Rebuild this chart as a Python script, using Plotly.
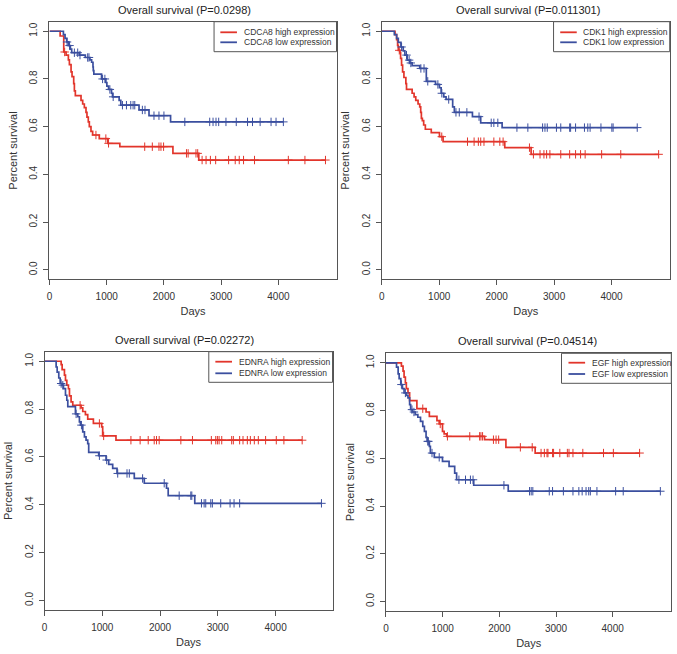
import numpy as np
import plotly.graph_objects as go

W, H = 677, 654

# ---------------- data ----------------
panel_titles = ["Overall survival (P=0.0298)", "Overall survival (P=0.011301)",
                "Overall survival (P=0.02272)", "Overall survival (P=0.04514)"]
genes = ["CDCA8", "CDK1", "EDNRA", "EGF"]

# CDCA8
cdca8_high_days = [186, 249, 290, 330, 348, 377, 394, 423, 435, 452, 551, 580, 609, 638, 655, 678, 696,
                   725, 754, 870, 1020, 1229, 2157, 2609]
cdca8_high_surv = [0.98, 0.913, 0.90, 0.88, 0.86, 0.83, 0.81, 0.78, 0.75, 0.73, 0.71, 0.695, 0.68, 0.66,
                   0.64, 0.62, 0.60, 0.58, 0.565, 0.55, 0.53, 0.516, 0.488, 0.46]
cdca8_high_censor = [265, 812, 985, 1032, 1664, 1797, 1913, 1948, 1994, 2394, 2423, 2560, 2590, 2667, 2736,
                     2812, 2904, 3130, 3246, 3316, 3391, 3583, 4174, 4464, 4823]
cdca8_low_days = [243, 272, 301, 330, 365, 388, 522, 626, 707, 736, 760, 765, 775, 910, 985, 1003, 1032,
                  1084, 1101, 1217, 1246, 1565, 1739, 2116]
cdca8_low_surv = [0.986, 0.97, 0.955, 0.94, 0.925, 0.91, 0.90, 0.89, 0.88, 0.87, 0.85, 0.835, 0.82, 0.80,
                  0.785, 0.77, 0.756, 0.74, 0.725, 0.71, 0.69, 0.67, 0.646, 0.62]
cdca8_low_censor = [307, 350, 435, 493, 533, 667, 690, 928, 968, 1055, 1113, 1275, 1345, 1420, 1461, 1490,
                    1623, 1669, 1826, 1913, 2000, 2365, 2800, 2858, 2910, 2957, 3084, 3264, 3461, 3548,
                    3681, 3872, 3959, 4087]

# CDK1
cdk1_high_days = [230, 258, 275, 287, 316, 327, 344, 362, 385, 419, 430, 528, 562, 591, 631, 660, 677,
                  689, 706, 729, 758, 861, 1004, 1067, 2141, 2600]
cdk1_high_surv = [0.986, 0.965, 0.941, 0.92, 0.91, 0.886, 0.858, 0.83, 0.806, 0.78, 0.756, 0.74, 0.725,
                  0.71, 0.695, 0.683, 0.66, 0.635, 0.625, 0.607, 0.589, 0.575, 0.558, 0.537, 0.512, 0.484]
cdk1_high_censor = [304, 1044, 1492, 1607, 1681, 1722, 1779, 1951, 2055, 2112, 2571, 2640, 2755, 2823,
                    2870, 2927, 3116, 3271, 3374, 3461, 3541, 3828, 4161, 4821]
cdk1_low_days = [218, 258, 287, 333, 373, 402, 442, 488, 528, 660, 775, 935, 1004, 1033, 1079, 1119,
                 1234, 1263, 1578, 1722, 2095]
cdk1_low_surv = [0.986, 0.97, 0.953, 0.934, 0.918, 0.9, 0.879, 0.867, 0.856, 0.844, 0.79, 0.777, 0.763,
                 0.74, 0.725, 0.714, 0.683, 0.66, 0.642, 0.616, 0.596]
cdk1_low_censor = [344, 430, 476, 505, 680, 735, 800, 976, 1045, 1165, 1291, 1349, 1481, 1693, 1905, 1951,
                   2020, 2353, 2543, 2800, 2841, 2881, 3041, 3116, 3271, 3288, 3374, 3529, 3587, 3627,
                   3816, 4006, 4028, 4448]

# EDNRA
ednra_high_days = [288, 305, 345, 363, 386, 414, 432, 460, 489, 633, 662, 708, 748, 846, 990, 1007, 1237]
ednra_high_surv = [0.986, 0.965, 0.942, 0.92, 0.90, 0.885, 0.855, 0.83, 0.816, 0.805, 0.79, 0.777, 0.758,
                   0.74, 0.726, 0.688, 0.67]
ednra_high_censor = [616, 950, 1024, 1496, 1655, 1795, 1899, 1939, 1985, 2360, 2561, 2888, 2964, 2993,
                     3022, 3068, 3240, 3269, 3378, 3436, 3511, 3563, 3632, 3701, 3827, 4012, 4144, 4460]
ednra_low_days = [201, 219, 247, 271, 305, 328, 363, 386, 403, 535, 576, 604, 622, 662, 691, 719, 748,
                  765, 938, 1065, 1111, 1180, 1255, 1554, 1727, 2112, 2141, 2601]
ednra_low_surv = [0.976, 0.955, 0.93, 0.907, 0.9, 0.886, 0.858, 0.837, 0.81, 0.78, 0.768, 0.747, 0.733,
                  0.705, 0.684, 0.67, 0.656, 0.619, 0.605, 0.587, 0.569, 0.552, 0.531, 0.51, 0.49, 0.469,
                  0.438, 0.406]
ednra_low_censor = [288, 317, 547, 639, 950, 1076, 1267, 1428, 1468, 1698, 2072, 2331, 2532, 2550, 2717,
                    2763, 2791, 2878, 2906, 3050, 3212, 3281, 3378, 4794]

# EGF
egf_high_days = [272, 301, 319, 342, 359, 388, 417, 545, 707, 765, 899, 939, 997, 1026, 1072, 1739, 2116,
                 2632]
egf_high_surv = [0.986, 0.965, 0.94, 0.916, 0.892, 0.874, 0.842, 0.808, 0.794, 0.776, 0.758, 0.744, 0.713,
                 0.702, 0.692, 0.678, 0.646, 0.622]
egf_high_censor = [649, 957, 1084, 1478, 1652, 1675, 1704, 1896, 1942, 1988, 2371, 2580, 2736, 2794, 2841,
                   2858, 2939, 2957, 3067, 3200, 3229, 3299, 3473, 3838, 4012, 4475]
egf_low_days = [186, 214, 232, 261, 290, 319, 359, 388, 417, 435, 464, 516, 562, 609, 649, 678, 707, 725,
                765, 783, 852, 997, 1113, 1212, 1246, 1548, 2157]
egf_low_surv = [0.982, 0.954, 0.934, 0.909, 0.892, 0.874, 0.864, 0.853, 0.825, 0.804, 0.794, 0.783, 0.772,
                0.755, 0.734, 0.713, 0.688, 0.671, 0.65, 0.622, 0.604, 0.587, 0.566, 0.538, 0.51, 0.487,
                0.462]
egf_low_censor = [272, 342, 458, 493, 736, 748, 812, 939, 1287, 1403, 1490, 1536, 2081, 2533, 2562, 2591,
                  2881, 2939, 3130, 3299, 3403, 3461, 3530, 3577, 3606, 3722, 4052, 4186, 4841]

x_ticks = [0, 1000, 2000, 3000, 4000]
y_ticks = [0.0, 0.2, 0.4, 0.6, 0.8, 1.0]

panels = [
    (cdca8_high_days, cdca8_high_surv, cdca8_high_censor, cdca8_low_days, cdca8_low_surv, cdca8_low_censor),
    (cdk1_high_days, cdk1_high_surv, cdk1_high_censor, cdk1_low_days, cdk1_low_surv, cdk1_low_censor),
    (ednra_high_days, ednra_high_surv, ednra_high_censor, ednra_low_days, ednra_low_surv, ednra_low_censor),
    (egf_high_days, egf_high_surv, egf_high_censor, egf_low_days, egf_low_surv, egf_low_censor),
]

# ---------------- layout geometry (pixels) ----------------
# plot boxes: (left, right, top, bottom)
boxes = [(46.7, 335.0, 21.7, 279.3), (380.5, 669.7, 21.7, 279.3),
         (41.7, 331.0, 351.7, 610.0), (384.7, 671.3, 353.3, 611.0)]
title_pos = [(182.5, 9.5), (527.0, 10.0), (182.2, 340.0), (526.7, 341.0)]
# legend: box x0, x1, y0, y1, line x0, x1, text x, row1 y, row2 y
legends = [(212.0, 335.0, 21.7, 51.7, 218.3, 235.0, 240.0, 32.3, 42.3),
           (553.0, 669.7, 21.7, 51.7, 559.7, 576.3, 581.0, 32.3, 42.3),
           (206.7, 331.0, 351.7, 382.3, 213.3, 230.0, 235.0, 361.7, 373.3),
           (561.0, 671.3, 353.3, 383.3, 568.0, 584.7, 589.3, 362.7, 374.0)]

RED = "#e2352b"
BLUE = "#3b4f9f"
AXC = "#555555"
TXT = "#333333"
FONT = "Arial, Liberation Sans, Helvetica, sans-serif"


def fx(x):
    return x / W


def fy(y):
    return 1 - y / H


def censor_y(days, surv, cens):
    idx = np.searchsorted(np.asarray(days), np.asarray(cens), side="right")
    s = np.concatenate([[1.0], np.asarray(surv)])
    return s[idx]


fig = go.Figure()
shapes = []
annotations = []
layout_axes = {}

for i, (hd, hs, hc, ld, ls, lc) in enumerate(panels):
    n = "" if i == 0 else str(i + 1)
    xa, ya = "x" + n, "y" + n
    gene = genes[i]
    for days, surv, cens, col, lab in [(hd, hs, hc, RED, f"{gene} high expression"),
                                       (ld, ls, lc, BLUE, f"{gene} low expression")]:
        end = max(max(cens), max(days))
        xs = [0] + list(days) + [end]
        ys = [1.0] + list(surv) + [surv[-1]]
        fig.add_trace(go.Scatter(x=xs, y=ys, mode="lines", line=dict(color=col, width=1.7, shape="hv"),
                                 name=lab, xaxis=xa, yaxis=ya, showlegend=False))
        fig.add_trace(go.Scatter(x=cens, y=censor_y(days, surv, cens), mode="markers",
                                 marker=dict(symbol="cross-thin", size=6, color=col,
                                             line=dict(color=col, width=1)),
                                 name=lab + " (censored)", xaxis=xa, yaxis=ya, showlegend=False))

    xmax = 1.04 * max(max(hd), max(hc), max(ld), max(lc))
    l, r, t, b = boxes[i]
    layout_axes["xaxis" + n] = dict(
        domain=[fx(l), fx(r)], range=[0, xmax], anchor=ya, showline=True, mirror=True,
        linecolor=AXC, linewidth=1, ticks="outside", ticklen=5, tickwidth=1, tickcolor=AXC,
        tickvals=x_ticks, showgrid=False, zeroline=False, ticklabelstandoff=3,
        tickfont=dict(family=FONT, size=10, color=TXT),
        title=dict(text="Days", font=dict(family=FONT, size=11, color=TXT), standoff=6))
    layout_axes["yaxis" + n] = dict(
        domain=[fy(b), fy(t)], range=[-0.04, 1.04], anchor=xa, showline=True, mirror=True,
        linecolor=AXC, linewidth=1, ticks="outside", ticklen=5, tickwidth=1, tickcolor=AXC,
        tickvals=y_ticks, tickformat=".1f", tickangle=-90, showgrid=False, zeroline=False,
        ticklabelstandoff=2,
        tickfont=dict(family=FONT, size=10, color=TXT),
        title=dict(text="Percent survival", font=dict(family=FONT, size=11, color=TXT), standoff=8))

    tx, ty = title_pos[i]
    annotations.append(dict(text=panel_titles[i], x=fx(tx), y=fy(ty), xref="paper", yref="paper",
                            xanchor="center", yanchor="middle", showarrow=False,
                            font=dict(family=FONT, size=11, color="#222222")))

    bx0, bx1, by0, by1, lx0, lx1, txx, r1, r2 = legends[i]
    shapes.append(dict(type="rect", xref="paper", yref="paper", x0=fx(bx0), x1=fx(bx1), y0=fy(by1),
                       y1=fy(by0), line=dict(color=AXC, width=1), fillcolor="white", layer="above"))
    for ry, col, lab in [(r1, RED, f"{gene} high expression"), (r2, BLUE, f"{gene} low expression")]:
        shapes.append(dict(type="line", xref="paper", yref="paper", x0=fx(lx0), x1=fx(lx1), y0=fy(ry),
                           y1=fy(ry), line=dict(color=col, width=1.8), layer="above"))
        annotations.append(dict(text=lab, x=fx(txx), y=fy(ry), xref="paper", yref="paper",
                                xanchor="left", yanchor="middle", showarrow=False,
                                font=dict(family=FONT, size=8.5, color=TXT)))

fig.update_layout(width=W, height=H, margin=dict(l=0, r=0, t=0, b=0), paper_bgcolor="white",
                  plot_bgcolor="white", showlegend=False, shapes=shapes, annotations=annotations,
                  **layout_axes)

fig.write_html("out.html", config={"displayModeBar": False},
               post_script="document.body.style.margin='0';document.body.style.overflow='hidden';")
